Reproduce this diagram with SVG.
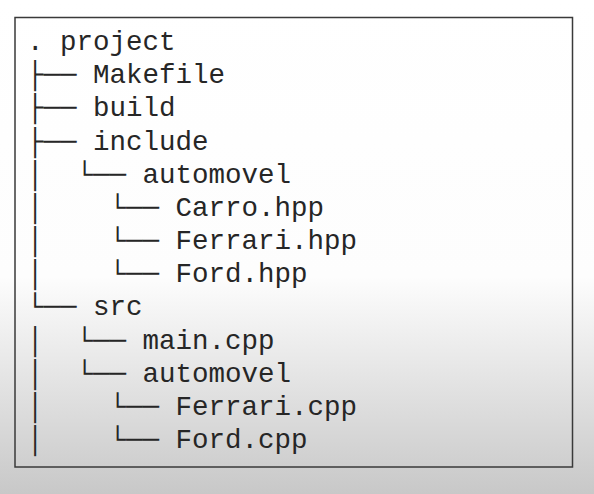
<svg xmlns="http://www.w3.org/2000/svg" width="594" height="494" viewBox="0 0 594 494">
<defs>
<linearGradient id="bg" x1="0" y1="0" x2="0" y2="1">
<stop offset="0" stop-color="#ffffff"/>
<stop offset="0.56" stop-color="#fdfdfd"/>
<stop offset="1" stop-color="#c8c8c8"/>
</linearGradient>
</defs>
<style>
.t{font-family:"Courier New","Nimbus Mono PS","FreeMono","Liberation Mono","DejaVu Sans Mono",monospace;font-size:27.5px;fill:#262626;white-space:pre}
.frame{fill:none;stroke:#3a3a3a;stroke-width:1.5}
</style>
<rect x="0" y="0" width="594" height="494" fill="url(#bg)"/>
<rect class="frame" x="15" y="17.5" width="557.5" height="449.5"/>
<g id="tree">
<g id="n-project"><text class="t" x="27" y="50" xml:space="preserve">. project</text></g>
<g id="n-makefile"><text class="t" x="27" y="83.2" xml:space="preserve">├── Makefile</text></g>
<g id="n-build"><text class="t" x="27" y="116.3" xml:space="preserve">├── build</text></g>
<g id="n-include"><text class="t" x="27" y="149.5" xml:space="preserve">├── include</text></g>
<g id="n-automovel1"><text class="t" x="27" y="182.7" xml:space="preserve">│  └── automovel</text></g>
<g id="n-carro"><text class="t" x="27" y="215.9" xml:space="preserve">│    └── Carro.hpp</text></g>
<g id="n-ferrari-hpp"><text class="t" x="27" y="249" xml:space="preserve">│    └── Ferrari.hpp</text></g>
<g id="n-ford-hpp"><text class="t" x="27" y="282.2" xml:space="preserve">│    └── Ford.hpp</text></g>
<g id="n-src"><text class="t" x="27" y="315.4" xml:space="preserve">└── src</text></g>
<g id="n-main"><text class="t" x="27" y="348.5" xml:space="preserve">│  └── main.cpp</text></g>
<g id="n-automovel2"><text class="t" x="27" y="381.7" xml:space="preserve">│  └── automovel</text></g>
<g id="n-ferrari-cpp"><text class="t" x="27" y="414.9" xml:space="preserve">│    └── Ferrari.cpp</text></g>
<g id="n-ford-cpp"><text class="t" x="27" y="448" xml:space="preserve">│    └── Ford.cpp</text></g>
</g>
<g id="connectors"></g>
</svg>
